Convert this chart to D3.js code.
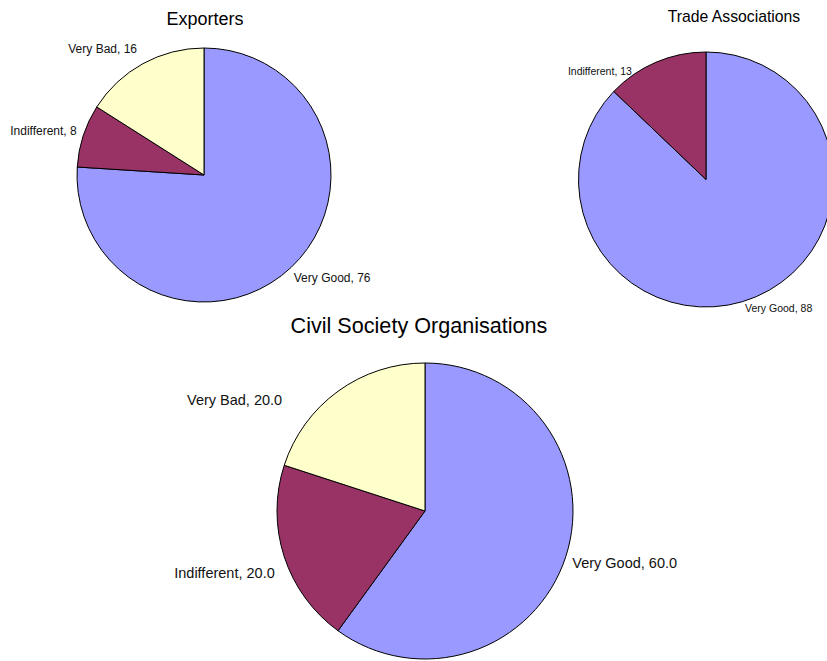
<!DOCTYPE html>
<html>
<head>
<meta charset="utf-8">
<script src="https://cdn.jsdelivr.net/npm/d3@7"></script>
<style>
  body { margin: 0; background: #fff; }
  svg { display: block; font-family: Arial, "Liberation Sans", sans-serif; }
</style>
</head>
<body>
<script>
// data
const exportersCategories = ["Very Good", "Indifferent", "Very Bad"];
const exportersValues = [76, 8, 16];

const tradeCategories = ["Very Good", "Indifferent"];
const tradeValues = [88, 13];

const civilCategories = ["Very Good", "Indifferent", "Very Bad"];
const civilValues = [60.0, 20.0, 20.0];

const width = 827, height = 661;

const color = d3.scaleOrdinal()
    .domain(["Very Good", "Indifferent", "Very Bad"])
    .range(["#9999ff", "#993366", "#ffffcc"]);

const svg = d3.select("body")
    .append("svg")
    .attr("width", width)
    .attr("height", height);

// one pie per panel; label nudges move the labels where the original put them
const panels = [
  {
    title: "Exporters", cats: exportersCategories, vals: exportersValues, fmt: d3.format("d"),
    cx: 204, cy: 175, r: 127, titleX: 205, titleY: 25, titleSize: 18, labelSize: 12,
    nudge: { "Very Good": [-4, 3], "Indifferent": [3, -2], "Very Bad": [-1, -6] }
  },
  {
    title: "Trade Associations", cats: tradeCategories, vals: tradeValues, fmt: d3.format("d"),
    cx: 706, cy: 179.5, r: 127.5, titleX: 734, titleY: 22, titleSize: 15.75, labelSize: 10.5,
    nudge: { "Very Good": [-15, 2], "Indifferent": [-20, 18] }
  },
  {
    title: "Civil Society Organisations", cats: civilCategories, vals: civilValues, fmt: d3.format(".1f"),
    cx: 425, cy: 511, r: 148, titleX: 419, titleY: 333, titleSize: 21.6, labelSize: 14.5,
    nudge: { "Very Good": [-3, 3], "Indifferent": [0, 13], "Very Bad": [-50, 17] }
  }
];

const pie = d3.pie().sort(null).value(d => d.value);

panels.forEach(p => {
  const data = p.cats.map((c, i) => ({ cat: c, value: p.vals[i] }));
  const arcs = pie(data);
  const arc = d3.arc().innerRadius(0).outerRadius(p.r);

  const g = svg.append("g")
      .attr("transform", `translate(${p.cx},${p.cy})`);

  g.selectAll("path")
    .data(arcs)
    .enter()
    .append("path")
    .attr("d", arc)
    .attr("fill", d => color(d.data.cat))
    .attr("stroke", "#000")
    .attr("stroke-width", 1)
    .attr("stroke-linejoin", "round");

  const lr = p.r + 10;
  g.selectAll("text.lbl")
    .data(arcs)
    .enter()
    .append("text")
    .attr("class", "lbl")
    .each(function(d) {
      const a = (d.startAngle + d.endAngle) / 2;
      const n = p.nudge[d.data.cat] || [0, 0];
      const x = lr * Math.sin(a) + n[0];
      const y = -lr * Math.cos(a) + p.labelSize * 0.35 + n[1];
      d3.select(this)
        .attr("x", x)
        .attr("y", y)
        .attr("text-anchor", Math.sin(a) >= 0 ? "start" : "end");
    })
    .attr("font-size", p.labelSize)
    .attr("fill", "#111")
    .text(d => `${d.data.cat}, ${p.fmt(d.data.value)}`);

  svg.append("text")
    .attr("x", p.titleX)
    .attr("y", p.titleY)
    .attr("text-anchor", "middle")
    .attr("font-size", p.titleSize)
    .attr("fill", "#000")
    .text(p.title);
});
</script>
</body>
</html>
